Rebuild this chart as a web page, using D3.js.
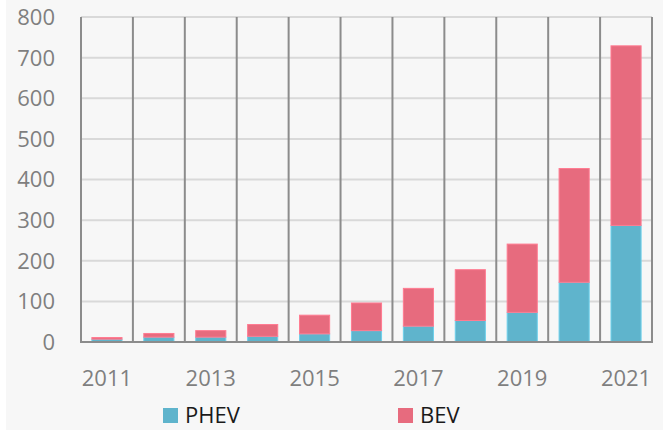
<!DOCTYPE html>
<html>
<head>
<meta charset="utf-8">
<script src="https://cdn.jsdelivr.net/npm/d3@7"></script>
<style>
  body { margin: 0; background: #f7f7f7; }
  text { font-family: "Open Sans", "Noto Sans", sans-serif; }
</style>
</head>
<body>
<div id="chart"></div>
<script>
const years = [2011, 2012, 2013, 2014, 2015, 2016, 2017, 2018, 2019, 2020, 2021];
const phev = [7, 12, 12, 14, 20, 28, 39, 53, 73, 147, 287];
const bev = [4, 9, 16, 29, 46, 68, 93, 125, 168, 280, 442];
const yTicks = [0, 100, 200, 300, 400, 500, 600, 700, 800];
const xLabels = [2011, 2013, 2015, 2017, 2019, 2021];
const seriesNames = ["PHEV", "BEV"];
const colors = {PHEV: "#5fb4cc", BEV: "#e76b7e"};

const svg = d3.select("#chart")
    .append("svg")
    .attr("width", 663)
    .attr("height", 430);

svg.append("rect").attr("width", 663).attr("height", 430).attr("fill", "#f7f7f7");
svg.append("rect").attr("width", 6).attr("height", 430).attr("fill", "#ffffff");

let x = d3.scaleBand().domain(years).range([81, 652]).padding(0),
    y = d3.scaleLinear().domain([0, 800]).range([342, 17]);

let rows = years.map((yr, i) => ({year: yr, PHEV: phev[i], BEV: bev[i]}));
let stacked = d3.stack().keys(seriesNames)(rows);

// horizontal gridlines
svg.append("g")
    .selectAll("line")
    .data(yTicks.filter(t => t > 0))
    .enter().append("line")
    .attr("x1", 81).attr("x2", 652)
    .attr("y1", d => y(d)).attr("y2", d => y(d))
    .attr("stroke", "#d9d9d9")
    .attr("stroke-width", 2);

// bars
let barW = x.bandwidth() * 0.58;
svg.append("g")
    .selectAll("g")
    .data(stacked)
    .enter().append("g")
    .attr("fill", d => colors[d.key])
    .attr("stroke", d => d3.color(colors[d.key]).brighter(0.4))
    .attr("stroke-width", 1)
    .selectAll("rect")
    .data(d => d)
    .enter().append("rect")
    .attr("x", d => x(d.data.year) + (x.bandwidth() - barW) / 2)
    .attr("y", d => y(d[1]))
    .attr("width", barW)
    .attr("height", d => y(d[0]) - y(d[1]));

// vertical category dividers
let bounds = years.map(d => x(d)).concat([x(years[years.length - 1]) + x.bandwidth()]);
svg.append("g")
    .selectAll("line")
    .data(bounds)
    .enter().append("line")
    .attr("x1", d => d).attr("x2", d => d)
    .attr("y1", y(800)).attr("y2", y(0))
    .attr("stroke", "#8c8c8c")
    .attr("stroke-width", 2);

// baseline
svg.append("line")
    .attr("x1", 80).attr("x2", 653)
    .attr("y1", y(0)).attr("y2", y(0))
    .attr("stroke", "#8c8c8c")
    .attr("stroke-width", 2);

// y axis labels
svg.append("g")
    .selectAll("text")
    .data(yTicks)
    .enter().append("text")
    .attr("x", 55)
    .attr("y", d => y(d))
    .attr("dy", "0.36em")
    .attr("text-anchor", "end")
    .attr("font-size", 22)
    .attr("fill", "#7f7f7f")
    .text(d => d);

// x axis labels
svg.append("g")
    .selectAll("text")
    .data(xLabels)
    .enter().append("text")
    .attr("x", d => x(d) + x.bandwidth() / 2)
    .attr("y", 386)
    .attr("text-anchor", "middle")
    .attr("font-size", 22)
    .attr("fill", "#7f7f7f")
    .text(d => d);

// legend
let legendX = {PHEV: 163, BEV: 398};
let lg = svg.append("g")
    .selectAll("g")
    .data(seriesNames)
    .enter().append("g")
    .attr("transform", d => "translate(" + legendX[d] + ",408)");
lg.append("rect")
    .attr("width", 15).attr("height", 15)
    .attr("fill", d => colors[d]);
lg.append("text")
    .attr("x", 22)
    .attr("y", 15)
    .attr("font-size", 22)
    .attr("fill", "#1a1a1a")
    .text(d => d);
</script>
</body>
</html>
